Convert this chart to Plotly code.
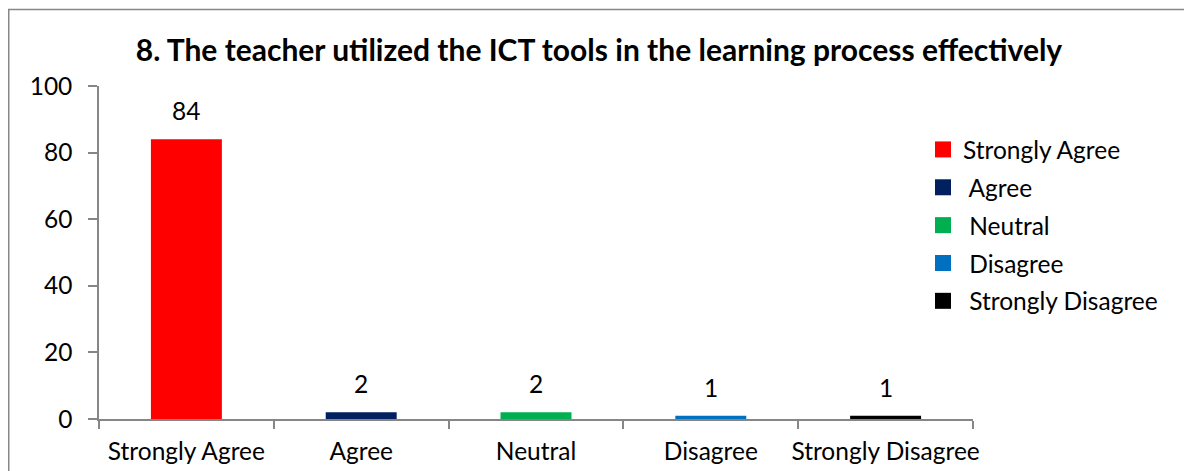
import plotly.graph_objects as go

categories = ["Strongly Agree", "Agree", "Neutral", "Disagree", "Strongly Disagree"]
values = [84, 2, 2, 1, 1]
colors = ["#FF0000", "#002060", "#00B050", "#0070C0", "#000000"]
legend_names = ["Strongly Agree", "\u00a0Agree", "\u00a0Neutral", "\u00a0Disagree", "\u00a0Strongly Disagree"]
title_text = "8. The teacher utilized the ICT tools in the learning process effectively"
y_ticks = [0, 20, 40, 60, 80, 100]

FONT = "Lato"
AX = "#868686"
W, H = 1184, 463
L, R, T, B = 91, 219, 78, 52
PW, PH = W - L - R, H - T - B

fig = go.Figure()
fig.add_trace(go.Bar(
    x=categories, y=values, marker=dict(color=colors, line=dict(width=0)),
    showlegend=False, hoverinfo="x+y",
))
for name, col in zip(legend_names, colors):
    fig.add_trace(go.Scatter(
        x=[None], y=[None], mode="markers", name=name,
        marker=dict(symbol="square", size=16, color=col),
        legendgroup=name,
    ))

for c, v in zip(categories, values):
    fig.add_annotation(x=c, y=v, text=str(v), showarrow=False, yanchor="bottom",
                       yshift=12, font=dict(family=FONT, size=24.5, color="#000000"))

fig.update_layout(
    width=W, height=H,
    margin=dict(l=L, r=R, t=T, b=B, autoexpand=False),
    paper_bgcolor="white", plot_bgcolor="white",
    font=dict(family=FONT, size=24.5, color="#000000"),
    bargap=0.594,
    title=dict(text="<b>" + title_text + "</b>", x=591 / W, xanchor="center",
               y=1 - 42 / H, yanchor="middle", automargin=False,
               font=dict(family=FONT, size=30, color="#000000")),
    legend=dict(x=(915 - L) / PW, xanchor="left", y=1 - (41 / PH), yanchor="top",
                font=dict(family=FONT, size=24.5, color="#000000"),
                traceorder="grouped", tracegroupgap=3,
                bgcolor="rgba(0,0,0,0)"),
    showlegend=True,
)
fig.update_xaxes(
    type="category", tickson="boundaries", ticks="outside", ticklen=8,
    tickcolor=AX, tickwidth=1.5, showline=True, linecolor=AX, linewidth=1.5,
    showgrid=False, zeroline=False, ticklabelstandoff=10, tickangle=0,
    automargin=False,
    tickfont=dict(family=FONT, size=24.5, color="#000000"),
)
fig.update_yaxes(
    range=[0, 100], tickvals=y_ticks, ticks="outside", ticklen=9,
    tickcolor=AX, tickwidth=1.5, showline=True, linecolor=AX, linewidth=1.5,
    showgrid=False, zeroline=False, ticklabelstandoff=11, automargin=False,
    tickfont=dict(family=FONT, size=24.5, color="#000000"),
)
fig.add_shape(type="rect", xref="paper", yref="paper",
              x0=(0.75 - L) / PW, x1=(1250 - L) / PW,
              y0=-(B + 60) / PH, y1=(PH + T - 1.5) / PH,
              line=dict(color="#878787", width=1.5), fillcolor="rgba(0,0,0,0)",
              layer="below")

fig.write_html("out.html")
